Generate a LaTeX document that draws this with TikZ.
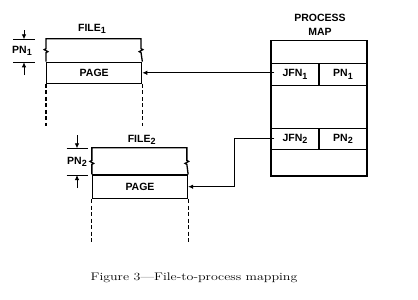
\documentclass[tikz,border=0pt]{standalone}
\usepackage{fontspec}
\newfontfamily\lblfont{Liberation Sans}
\usetikzlibrary{arrows.meta, positioning, calc}
\newcommand{\lsub}[1]{\raisebox{-0.45ex}{\small #1}}

\begin{document}
\begin{tikzpicture}[
  x=1pt, y=-1pt,
  font=\lblfont\bfseries\fontsize{10.5}{14}\selectfont, >={Latex[length=5pt,width=4.5pt]},
  cell/.style={rectangle, draw, line width=1.3pt, inner sep=0pt, minimum height=22pt},
  page/.style={cell, minimum width=95pt},
  mapcell/.style={cell, minimum width=48pt},
  filebody/.style={line width=1.3pt},
  dashside/.style={line width=1.2pt, dash pattern=on 4pt off 2.5pt},
  conn/.style={line width=0.8pt},
  tick/.style={line width=0.8pt},
]
\useasboundingbox (0,0) rectangle (418,300);

% first file
\node[page, minimum height=21pt] (page1) at (94.2,72.8) {PAGE};
\draw[filebody] (page1.north west) -- ++(0,-9) -- ++(1.8,-1) -- ++(-3.6,-2) -- ++(1.8,-1) -- ++(0,-10)
  -| ++(95,10) -- ++(1.8,1) -- ++(-3.6,2) -- ++(1.8,1) -- (page1.north east);
\draw[dashside] (page1.south west) -- ++(0,42);
\draw[dashside] (page1.south east) -- ++(0,42);
\node (file1) at (92,29) {FILE\lsub{1}};
\node (pnlbl1) at (22,51) {PN\lsub{1}};
\draw[tick] (13,39.3) -- (35,39.3);
\draw[tick] (13,62.3) -- (35,62.3);
\draw[tick,->] (24,30) -- (24,39.3);
\draw[tick,->] (24,75) -- (24,62.3);

% second file
\node[page, minimum height=23.3pt] (page2) at (140,186.7) {PAGE};
\draw[filebody] (page2.north west) -- ++(0,-10) -- ++(1.8,-1) -- ++(-3.6,-2) -- ++(1.8,-1) -- ++(0,-12.7)
  -| ++(95,12.7) -- ++(1.8,1) -- ++(-3.6,2) -- ++(1.8,1) -- (page2.north east);
\draw[dashside] (page2.south west) -- ++(0,43.4);
\draw[dashside] (page2.south east) -- ++(0,43.4);
\node (file2) at (141.7,140) {FILE\lsub{2}};
\node (pnlbl2) at (77,162) {PN\lsub{2}};
\draw[tick] (66.7,148.3) -- (88,148.3);
\draw[tick] (66.7,175) -- (88,175);
\draw[tick,->] (77,135) -- (77,148.3);
\draw[tick,->] (77,188) -- (77,175);

% process map
\node[align=center] (maplbl) at (320,25) {PROCESS\\MAP};
\node[cell, minimum width=96pt, minimum height=135.3pt] (map) at (319,108.35) {};
\node[mapcell, minimum height=22.4pt] (jfn1) at (295,74.5) {JFN\lsub{1}};
\node[mapcell, minimum height=22.4pt] (pn1) at (343,74.5) {PN\lsub{1}};
\node[mapcell, minimum height=21pt] (jfn2) at (295,138.8) {JFN\lsub{2}};
\node[mapcell, minimum height=21pt] (pn2) at (343,138.8) {PN\lsub{2}};

\draw[conn,->] ([xshift=4pt]jfn1.west |- page1.east) -- (page1.east);
\draw[conn,->] ([xshift=4pt]jfn2.west) -- ++(-40,0) |- (page2.east);

\node[font=\rmfamily\fontsize{11}{13}\selectfont] (caption) at (194,278)
  {\scalebox{1.27}[1]{Figure 3---File-to-process mapping}};
\end{tikzpicture}
\end{document}
